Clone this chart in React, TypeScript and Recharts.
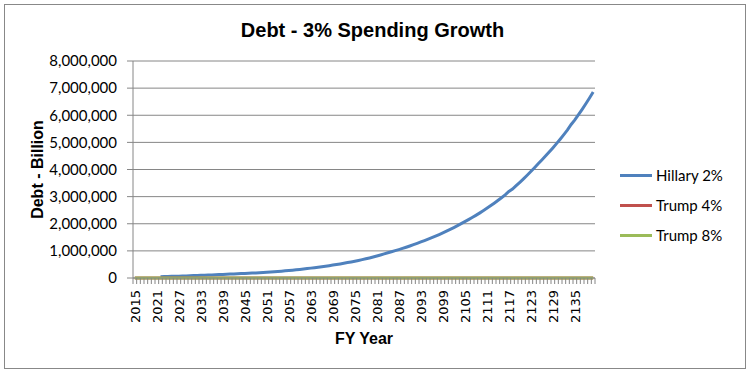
import React from 'react';
import { LineChart, Line, XAxis, YAxis, CartesianGrid, Legend } from 'recharts';

const years: number[] = [
  2015, 2016, 2017, 2018, 2019, 2020, 2021, 2022, 2023, 2024,
  2025, 2026, 2027, 2028, 2029, 2030, 2031, 2032, 2033, 2034,
  2035, 2036, 2037, 2038, 2039, 2040, 2041, 2042, 2043, 2044,
  2045, 2046, 2047, 2048, 2049, 2050, 2051, 2052, 2053, 2054,
  2055, 2056, 2057, 2058, 2059, 2060, 2061, 2062, 2063, 2064,
  2065, 2066, 2067, 2068, 2069, 2070, 2071, 2072, 2073, 2074,
  2075, 2076, 2077, 2078, 2079, 2080, 2081, 2082, 2083, 2084,
  2085, 2086, 2087, 2088, 2089, 2090, 2091, 2092, 2093, 2094,
  2095, 2096, 2097, 2098, 2099, 2100, 2101, 2102, 2103, 2104,
  2105, 2106, 2107, 2108, 2109, 2110, 2111, 2112, 2113, 2114,
  2115, 2116, 2117, 2118, 2119, 2120, 2121, 2122, 2123, 2124,
  2125, 2126, 2127, 2128, 2129, 2130, 2131, 2132, 2133, 2134,
  2135, 2136, 2137, 2138, 2139, 2140,
];

// Hillary 2% (2015-2021 not visible, data starts 2022)
const hillary: (number | null)[] = [
  null, null, null, null, null, null, null,
  50000, 53300, 56800, 60500, 64500, 68800, 73300, 78100, 83300, 88800,
  94700, 99100, 103800, 108700, 113800, 119100, 124700, 130600, 136700, 143100,
  149900, 155700, 161800, 168100, 174700, 181500, 188600, 195900, 203600, 211500,
  219800, 230100, 240900, 252200, 264100, 276500, 289500, 303100, 317300, 332200,
  347800, 364200, 381300, 399200, 417200, 436000, 455600, 476100, 497500, 519900,
  543300, 567800, 593300, 620000, 647900, 677100, 707600, 739400, 774200, 810500,
  848600, 888500, 930200, 967900, 1007100, 1047900, 1090300, 1134500, 1180400, 1228200,
  1278000, 1329700, 1380200, 1432700, 1487100, 1543600, 1602300, 1663200, 1726400, 1792000,
  1860100, 1930800, 2004100, 2076300, 2151000, 2228500, 2308700, 2391800, 2477900, 2567100,
  2659500, 2755300, 2854500, 2957200, 3063700, 3190000, 3280000, 3406600, 3529300, 3656300,
  3788000, 3924300, 4065600, 4212000, 4351000, 4494600, 4642900, 4796100, 4954400, 5117900,
  5286800, 5461200, 5660000, 5827600, 6020000, 6218600, 6423900, 6635800, 6854800,
];

const trump4: number[] = [
  0, 0, 0, 0, 0, 0, 0, 0, 0, 0, 0, 0, 0, 0, 0, 0, 0, 0, 0, 0,
  0, 0, 0, 0, 0, 0, 0, 0, 0, 0, 0, 0, 0, 0, 0, 0, 0, 0, 0, 0,
  0, 0, 0, 0, 0, 0, 0, 0, 0, 0, 0, 0, 0, 0, 0, 0, 0, 0, 0, 0,
  0, 0, 0, 0, 0, 0, 0, 0, 0, 0, 0, 0, 0, 0, 0, 0, 0, 0, 0, 0,
  0, 0, 0, 0, 0, 0, 0, 0, 0, 0, 0, 0, 0, 0, 0, 0, 0, 0, 0, 0,
  0, 0, 0, 0, 0, 0, 0, 0, 0, 0, 0, 0, 0, 0, 0, 0, 0, 0, 0, 0,
  0, 0, 0, 0, 0, 0,
];

const trump8: number[] = [
  0, 0, 0, 0, 0, 0, 0, 0, 0, 0, 0, 0, 0, 0, 0, 0, 0, 0, 0, 0,
  0, 0, 0, 0, 0, 0, 0, 0, 0, 0, 0, 0, 0, 0, 0, 0, 0, 0, 0, 0,
  0, 0, 0, 0, 0, 0, 0, 0, 0, 0, 0, 0, 0, 0, 0, 0, 0, 0, 0, 0,
  0, 0, 0, 0, 0, 0, 0, 0, 0, 0, 0, 0, 0, 0, 0, 0, 0, 0, 0, 0,
  0, 0, 0, 0, 0, 0, 0, 0, 0, 0, 0, 0, 0, 0, 0, 0, 0, 0, 0, 0,
  0, 0, 0, 0, 0, 0, 0, 0, 0, 0, 0, 0, 0, 0, 0, 0, 0, 0, 0, 0,
  0, 0, 0, 0, 0, 0,
];

const yTicks: number[] = [0, 1000000, 2000000, 3000000, 4000000, 5000000, 6000000, 7000000, 8000000];

const seriesNames = ['Hillary 2%', 'Trump 4%', 'Trump 8%'];
const seriesColors = ['#4F81BD', '#C0504D', '#9BBB59'];

const data = years.map((y, i) => ({
  year: String(y),
  hillary: hillary[i],
  trump4: trump4[i],
  trump8: trump8[i],
}));

const GRID = '#868686';

const XTick = (props: any) => {
  const { x, y, payload, index } = props;
  const off = payload && payload.offset ? payload.offset : 1.83;
  const last = index === years.length - 1;
  const ty = y + 12;
  return (
    <g>
      <line x1={x - off} y1={y} x2={x - off} y2={y + 6} stroke={GRID} strokeWidth={1} />
      {last ? <line x1={x + off} y1={y} x2={x + off} y2={y + 6} stroke={GRID} strokeWidth={1} /> : null}
      {index % 6 === 0 ? (
        <text
          x={x}
          y={ty}
          dy="0.36em"
          transform={`rotate(-90, ${x}, ${ty})`}
          textAnchor="end"
          fontFamily="'DejaVu Sans', Verdana, sans-serif"
          fontSize={13}
          fill="#000"
        >
          {payload.value}
        </text>
      ) : null}
    </g>
  );
};

const YLabel = (props: any) => {
  const vb = props.viewBox || {};
  const cx = vb.x + 4;
  const cy = vb.y + vb.height / 2;
  return (
    <text
      x={cx}
      y={cy}
      transform={`rotate(-90, ${cx}, ${cy})`}
      textAnchor="middle"
      dominantBaseline="central"
      fontFamily="'Liberation Sans', Arial, sans-serif"
      fontWeight="bold"
      fontSize={16}
      fill="#000"
    >
      Debt - Billion
    </text>
  );
};

const XLabel = (props: any) => {
  const vb = props.viewBox || {};
  const cx = vb.x + vb.width / 2;
  const cy = vb.y + 60;
  return (
    <text
      x={cx}
      y={cy}
      textAnchor="middle"
      dominantBaseline="central"
      fontFamily="'Liberation Sans', Arial, sans-serif"
      fontWeight="bold"
      fontSize={16}
      fill="#000"
    >
      FY Year
    </text>
  );
};

const LegendContent = () => (
  <div style={{ width: 120 }}>
    {seriesNames.map((n, i) => (
      <div key={n} style={{ height: 30, display: 'flex', alignItems: 'center' }}>
        <div style={{ width: 32, height: 3, background: seriesColors[i], marginLeft: 2 }} />
        <span
          style={{
            marginLeft: 4,
            fontFamily: 'Lato, sans-serif',
            fontSize: 15,
            color: '#000',
            whiteSpace: 'nowrap',
          }}
        >
          {n}
        </span>
      </div>
    ))}
  </div>
);

export default function App() {
  return (
    <div style={{ position: 'absolute', left: 0, top: 0, width: 750, height: 373, background: '#fff' }}>
      <div
        style={{
          position: 'absolute',
          left: 4,
          top: 4,
          width: 740,
          height: 363,
          border: '1px solid #888',
        }}
      />
      <div
        style={{
          position: 'absolute',
          left: 0,
          top: 17,
          width: 745,
          textAlign: 'center',
          fontFamily: "'Liberation Sans', Arial, sans-serif",
          fontWeight: 'bold',
          fontSize: 20,
          lineHeight: '26px',
          color: '#000',
        }}
      >
        Debt - 3% Spending Growth
      </div>
      <div style={{ position: 'absolute', left: 0, top: 0 }}>
        <LineChart
          width={750}
          height={373}
          data={data}
          margin={{ top: 61, right: 35, bottom: 35, left: 33 }}
        >
          <CartesianGrid horizontal={true} vertical={false} stroke={GRID} strokeDasharray="" />
          <XAxis
            dataKey="year"
            scale="band"
            interval={0}
            height={60}
            tickLine={false}
            tickSize={0}
            tickMargin={0}
            axisLine={{ stroke: GRID }}
            tick={<XTick />}
            label={<XLabel />}
          />
          <YAxis
            width={100}
            domain={[0, 8000000]}
            ticks={yTicks}
            interval={0}
            tickSize={6}
            tickMargin={10}
            tickLine={{ stroke: GRID }}
            axisLine={{ stroke: GRID }}
            tickFormatter={(v: number) => v.toLocaleString('en-US')}
            tick={{ fontFamily: 'Lato, sans-serif', fontSize: 15, fill: '#000' }}
            label={<YLabel />}
          />
          <Legend
            layout="vertical"
            align="right"
            verticalAlign="middle"
            width={120}
            wrapperStyle={{ left: 618, top: 160 }}
            content={<LegendContent />}
          />
          <Line
            type="linear"
            dataKey="hillary"
            name={seriesNames[0]}
            stroke={seriesColors[0]}
            strokeWidth={3}
            dot={false}
            isAnimationActive={false}
          />
          <Line
            type="linear"
            dataKey="trump4"
            name={seriesNames[1]}
            stroke={seriesColors[1]}
            strokeWidth={3}
            dot={false}
            isAnimationActive={false}
          />
          <Line
            type="linear"
            dataKey="trump8"
            name={seriesNames[2]}
            stroke={seriesColors[2]}
            strokeWidth={3}
            dot={false}
            isAnimationActive={false}
          />
        </LineChart>
      </div>
    </div>
  );
}
